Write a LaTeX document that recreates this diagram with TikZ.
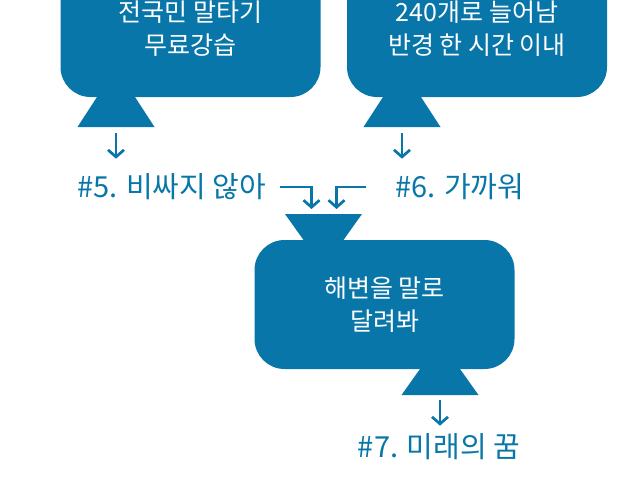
\documentclass[tikz,border=0pt]{standalone}
\usepackage{fontspec}
\setmainfont{Noto Sans CJK KR}
\usetikzlibrary{arrows.meta}
\definecolor{seablue}{RGB}{8,118,168}

\begin{document}
\begin{tikzpicture}[x=1pt, y=-1pt,
  box/.style={rectangle, fill=seablue, rounded corners=30pt, minimum width=260pt, minimum height=129pt, align=center, text=white, font=\fontsize{25}{33}\selectfont},
  funnel/.style={fill=seablue},
  hashtag/.style={inner sep=0pt, text=seablue, font=\fontsize{29}{32}\selectfont},
  arrow/.style={-{Straight Barb[length=7pt,width=16pt]}, line width=2.7pt, seablue}
]
  \useasboundingbox (0,0) rectangle (638,479);

  % Boxes (the two upper ones run off the top)
  \node[box, minimum height=136pt] (horse) at (190.5,29) {전국민 말타기\\무료강습};
  \node[box, minimum height=136pt] (near) at (477,29) {240개로 늘어남\\반경 한 시간 이내};
  \node[box] (beach) at (384.5,304.5) {해변을 말로\\달려봐};

  % Funnels: bottom centre (or top centre) of each
  \coordinate (horsefun) at (116,127);
  \coordinate (nearfun) at (402,127);
  \coordinate (beachtop) at (323.5,214);
  \coordinate (beachfun) at (440,395);
  \fill[funnel] (horsefun) ++(-38.5,0) -- ++(77,0) -- ++(-19.5,-30) -- ++(-38,0) -- cycle;
  \fill[funnel] (nearfun) ++(-38.5,0) -- ++(77,0) -- ++(-19.5,-30) -- ++(-38,0) -- cycle;
  \fill[funnel] (beachtop) ++(-38.5,0) -- ++(77,0) -- ++(-18.5,26) -- ++(-40,0) -- cycle;
  \fill[funnel] (beachfun) ++(-38.5,0) -- ++(77,0) -- ++(-18.5,-26) -- ++(-40,0) -- cycle;

  % Labels
  \node[hashtag, anchor=west] (cheap) at (77,187) {\#5. 비싸지 않아};
  \node[hashtag, anchor=west] (close) at (395,187) {\#6. 가까워};
  \node[hashtag] (dream) at (439,447) {\#7. 미래의 꿈};

  % Arrows
  \draw[arrow, shorten <=6pt, shorten >=15pt] (horsefun) -- (horsefun |- cheap.north);
  \draw[arrow, shorten <=6pt, shorten >=15pt] (nearfun) -- (nearfun |- close.north);
  \draw[arrow, shorten <=14pt, shorten >=5pt] (cheap.east) -| ([xshift=-12pt]beachtop);
  \draw[arrow, shorten <=29pt, shorten >=5pt] (close.west) -| ([xshift=13pt]beachtop);
  \draw[arrow, shorten <=5pt, shorten >=8pt] (beachfun) -- (beachfun |- dream.north);
\end{tikzpicture}
\end{document}
